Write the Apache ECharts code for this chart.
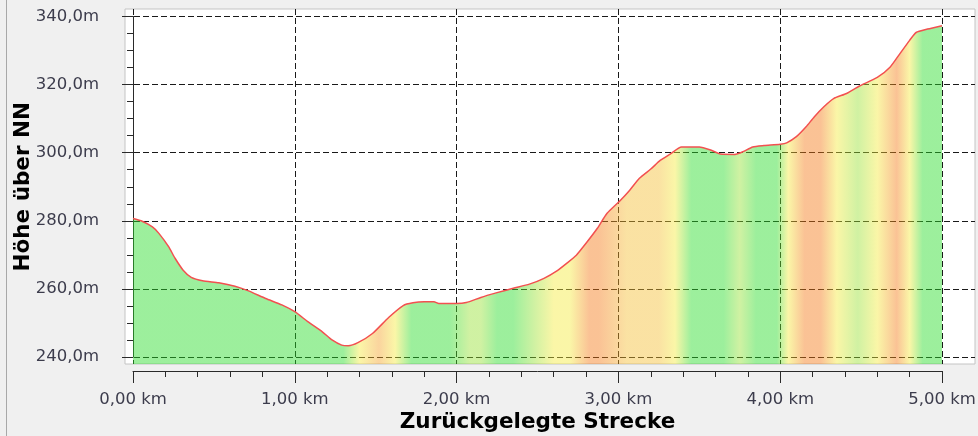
<!DOCTYPE html>
<html>
<head>
<meta charset="utf-8">
<script src="https://cdn.jsdelivr.net/npm/echarts@6/dist/echarts.min.js"></script>
<style>
html,body{margin:0;padding:0;background:#f0f0f0;}
#chart{width:978px;height:436px;}
</style>
</head>
<body>
<div id="chart"></div>
<script>
// ---- data ----
const distanceKm = [0, 0.05, 0.12, 0.16, 0.22, 0.26, 0.31, 0.36, 0.43, 0.53,
  0.63, 0.71, 0.82, 0.92, 1.00, 1.08, 1.17, 1.23, 1.29, 1.33,
  1.39, 1.48, 1.58, 1.67, 1.73, 1.80, 1.86, 1.89, 2.00, 2.06,
  2.15, 2.25, 2.35, 2.45, 2.54, 2.62, 2.68, 2.74, 2.80, 2.87,
  2.93, 3.01, 3.07, 3.13, 3.20, 3.26, 3.32, 3.39, 3.50, 3.57,
  3.63, 3.72, 3.77, 3.83, 3.90, 4.00, 4.04, 4.10, 4.16, 4.21,
  4.27, 4.33, 4.41, 4.49, 4.60, 4.68, 4.74, 4.80, 4.84, 4.91, 5.00];
const heightM = [280.7, 280.0, 278.2, 276.3, 272.4, 269.0, 265.5, 263.4, 262.4, 261.8,
  260.8, 259.5, 257.2, 255.3, 253.3, 250.4, 247.4, 245.0, 243.5, 243.3,
  244.2, 246.9, 251.6, 255.1, 255.9, 256.2, 256.2, 255.7, 255.7, 256.0,
  257.5, 258.9, 260.2, 261.4, 263.1, 265.3, 267.5, 269.9, 273.4, 277.8,
  282.2, 285.9, 289.0, 292.5, 295.2, 297.8, 299.6, 301.7, 301.7, 300.8,
  299.6, 299.5, 300.3, 301.7, 302.1, 302.5, 302.9, 304.7, 307.6, 310.5,
  313.5, 315.9, 317.4, 319.6, 322.1, 325.2, 329.1, 333.0, 335.3, 336.3, 337.3];

// colour bands of the fill (distance in km, slope class)
const bandKm    = [0, 1.30, 1.40, 1.52, 1.62, 1.72, 1.96, 2.08, 2.15, 2.25, 2.35, 2.48, 2.60, 2.70, 2.82, 2.88, 3.05, 3.25, 3.35, 3.45, 3.65, 3.75, 3.85, 3.98, 4.05, 4.15, 4.25, 4.35, 4.48, 4.60, 4.72, 4.80, 4.88, 5.00];
const bandClass = ['G','G','Y','P','Y','G','G','YG','YG','G','G','YG','Y','Y','O','O','YO','YO','Y','G','G','YG','G','G','Y','O','O','Y','YG','Y','O','Y','G','G'];

const xTicks = [0, 1, 2, 3, 4, 5];
const yTicks = [240, 260, 280, 300, 320, 340];

// ---- styling ----
const classColor = {
  G:  'rgba(40,220,40,0.46)',
  YG: 'rgba(150,225,50,0.45)',
  Y:  'rgba(245,235,60,0.45)',
  YO: 'rgba(245,190,50,0.45)',
  P:  'rgba(245,160,40,0.45)',
  O:  'rgba(245,120,20,0.45)'
};
const OUT = {left:125, right:975, top:9, bottom:364};   // white plot area
const IN  = {left:133, right:942, top:16.5, bottom:357}; // axis range 0..5 km, 240..340 m
const W = 978, H = 436;

const x0 = xTicks[0], x1 = xTicks[xTicks.length - 1];
const y0 = yTicks[0], y1 = yTicks[yTicks.length - 1];
const kx = (x1 - x0) / (IN.right - IN.left);
const ky = (y1 - y0) / (IN.bottom - IN.top);
const xMinOut = x0 - (IN.left - OUT.left) * kx;
const xMaxOut = x1 + (OUT.right - IN.right) * kx;
const yMinOut = y0 - (OUT.bottom - IN.bottom) * ky;
const yMaxOut = y1 + (IN.top - OUT.top) * ky;

const d0 = distanceKm[0], d1 = distanceKm[distanceKm.length - 1];
const colorStops = bandKm.map((k, i) => ({offset: (k - d0) / (d1 - d0), color: classColor[bandClass[i]]}));

const seriesData = distanceKm.map((d, i) => [d, heightM[i]]);

const labelColor = '#3c3c4c';
const font = 'DejaVu Sans';
const dash = {color: '#1a1a1a', type: [6, 3], width: 1};

const chart = echarts.init(document.getElementById('chart'), null, {renderer: 'canvas'});
chart.setOption({
  backgroundColor: '#f0f0f0',
  animation: false,
  graphic: [{
    type: 'line', silent: true,
    shape: {x1: 6.5, y1: 0, x2: 6.5, y2: H},
    style: {stroke: '#a8a8a8', lineWidth: 1}
  }],
  grid: [
    {left: OUT.left, right: W - OUT.right, top: OUT.top, bottom: H - OUT.bottom,
     outerBoundsMode: 'none', containLabel: false,
     show: true, backgroundColor: '#ffffff', borderColor: '#c4c4c4', borderWidth: 1},
    {left: IN.left, right: W - IN.right, top: IN.top, bottom: H - IN.bottom,
     outerBoundsMode: 'none', containLabel: false, show: false}
  ],
  xAxis: [
    {type: 'value', gridIndex: 0, min: xMinOut, max: xMaxOut,
     axisLine: {show: false}, axisLabel: {show: false},
     axisTick: {show: false, customValues: xTicks},
     splitLine: {show: true, lineStyle: dash}},
    {type: 'value', gridIndex: 1, min: x0, max: x1, interval: 1, offset: 14,
     axisLine: {show: true, lineStyle: {color: '#2a2a2a', width: 1}},
     axisTick: {show: true, length: 12, lineStyle: {color: '#2a2a2a'}},
     minorTick: {show: true, splitNumber: 5, length: 6, lineStyle: {color: '#2a2a2a'}},
     splitLine: {show: false},
     axisLabel: {show: true, margin: 20, color: labelColor, fontFamily: font, fontSize: 16.5,
       formatter: v => v.toFixed(2).replace('.', ',') + ' km'},
     name: 'Zurückgelegte Strecke', nameLocation: 'middle', nameGap: 40, nameMoveOverlap: false,
     nameTextStyle: {color: '#000', fontFamily: font, fontWeight: 'bold', fontSize: 21.5}}
  ],
  yAxis: [
    {type: 'value', gridIndex: 0, min: yMinOut, max: yMaxOut,
     axisLine: {show: false}, axisLabel: {show: false},
     axisTick: {show: false, customValues: yTicks},
     splitLine: {show: true, lineStyle: dash}},
    {type: 'value', gridIndex: 1, min: y0, max: y1, interval: 20, offset: 15,
     axisLine: {show: true, lineStyle: {color: '#2a2a2a', width: 1}},
     axisTick: {show: true, length: 11, lineStyle: {color: '#2a2a2a'}},
     minorTick: {show: true, splitNumber: 4, length: 6, lineStyle: {color: '#2a2a2a'}},
     splitLine: {show: false},
     axisLabel: {show: true, margin: 19, color: labelColor, fontFamily: font, fontSize: 16.5,
       formatter: v => v.toFixed(1).replace('.', ',') + 'm'},
     name: 'Höhe über NN', nameLocation: 'middle', nameGap: 84, nameMoveOverlap: false,
     nameTextStyle: {color: '#000', fontFamily: font, fontWeight: 'bold', fontSize: 21.5}}
  ],
  series: [{
    type: 'line', xAxisIndex: 0, yAxisIndex: 0,
    data: seriesData, symbol: 'none', smooth: 0.2,
    lineStyle: {color: '#f25050', width: 1.5},
    areaStyle: {origin: 'start', opacity: 1,
      color: {type: 'linear', x: 0, y: 0, x2: 1, y2: 0, colorStops: colorStops}}
  }]
});
</script>
</body>
</html>
